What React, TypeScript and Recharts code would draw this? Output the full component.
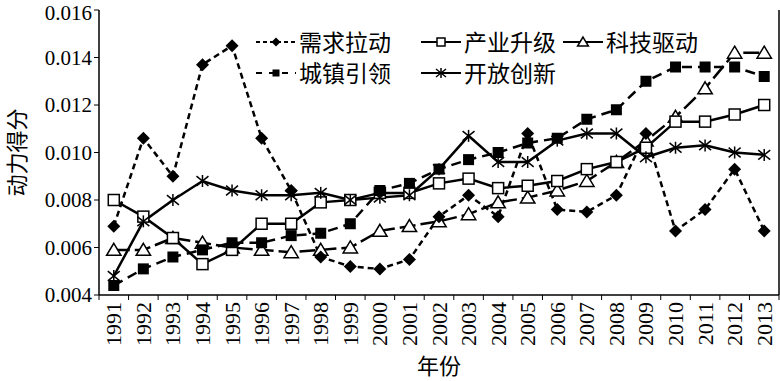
import { LineChart, Line, XAxis, YAxis, Legend } from 'recharts';

// 1991–2013
const years = [
  '1991', '1992', '1993', '1994', '1995', '1996', '1997', '1998', '1999', '2000', '2001', '2002',
  '2003', '2004', '2005', '2006', '2007', '2008', '2009', '2010', '2011', '2012', '2013',
];

const demand = [
  0.0069, 0.0106, 0.009, 0.0137, 0.0145, 0.0106, 0.0084, 0.0056, 0.0052, 0.0051, 0.0055, 0.0073,
  0.0082, 0.0073, 0.0108, 0.0076, 0.0075, 0.0082, 0.0108, 0.0067, 0.0076, 0.0093, 0.0067,
];
const industry = [
  0.008, 0.0073, 0.0064, 0.0053, 0.0059, 0.007, 0.007, 0.0079, 0.008, 0.0083, 0.0083, 0.0087,
  0.0089, 0.0085, 0.0086, 0.0088, 0.0093, 0.0096, 0.0102, 0.0113, 0.0113, 0.0116, 0.012,
];
const tech = [
  0.0059, 0.0059, 0.0064, 0.0062, 0.006, 0.0059, 0.0058, 0.0059, 0.006, 0.0067, 0.0069, 0.0071,
  0.0074, 0.0079, 0.0081, 0.0084, 0.0088, 0.0096, 0.0105, 0.0115, 0.0127, 0.0142, 0.0142,
];
const urban = [
  0.0044, 0.0051, 0.0056, 0.0059, 0.0062, 0.0062, 0.0065, 0.0066, 0.007, 0.0084, 0.0087, 0.0093,
  0.0097, 0.01, 0.0104, 0.0106, 0.0114, 0.0118, 0.013, 0.0136, 0.0136, 0.0136, 0.0132,
];
const openness = [
  0.0048, 0.0071, 0.008, 0.0088, 0.0084, 0.0082, 0.0082, 0.0083, 0.008, 0.0081, 0.0082, 0.0093,
  0.0107, 0.0096, 0.0096, 0.0105, 0.0108, 0.0108, 0.0098, 0.0102, 0.0103, 0.01, 0.0099,
];

const names = ['需求拉动', '产业升级', '科技驱动', '城镇引领', '开放创新'];
const yTicks = [0.004, 0.006, 0.008, 0.01, 0.012, 0.014, 0.016];

const data = years.map((year, i) => ({
  x: i + 1,
  year,
  demand: demand[i],
  industry: industry[i],
  tech: tech[i],
  urban: urban[i],
  openness: openness[i],
}));

// tick marks sit on the borders between years
const borderTicks = years.map((_, i) => i + 0.5).concat(years.length + 0.5);

const W = 780;
const H = 381;
const Y_AXIS_W = 99;
const halfStep = (W - Y_AXIS_W - 1) / years.length / 2;

const SERIF = 'Liberation Serif';
const CJK = 'Noto Sans CJK SC';

type P = { cx?: number; cy?: number; index?: number };

const diamond = (cx: number, cy: number, r: number, k?: string) => (
  <path key={k} d={`M${cx},${cy - r}L${cx + r},${cy}L${cx},${cy + r}L${cx - r},${cy}Z`} fill="#000" />
);
const openSquare = (cx: number, cy: number, s: number, k?: string) => (
  <rect key={k} x={cx - s / 2} y={cy - s / 2} width={s} height={s} fill="#fff" stroke="#000" strokeWidth={1.5} />
);
const triangle = (cx: number, cy: number, s: number, k?: string) => (
  <path
    key={k}
    d={`M${cx},${cy - s * 0.55}L${cx + s * 0.6},${cy + s * 0.45}L${cx - s * 0.6},${cy + s * 0.45}Z`}
    fill="#fff"
    stroke="#000"
    strokeWidth={1.5}
  />
);
const filledSquare = (cx: number, cy: number, s: number, k?: string) => (
  <rect key={k} x={cx - s / 2} y={cy - s / 2} width={s} height={s} fill="#000" />
);
const star = (cx: number, cy: number, r: number, k?: string) => (
  <g key={k} stroke="#000" strokeWidth={1.5}>
    <line x1={cx} y1={cy - r} x2={cx} y2={cy + r} />
    <line x1={cx - r} y1={cy - r * 0.8} x2={cx + r} y2={cy + r * 0.8} />
    <line x1={cx - r} y1={cy + r * 0.8} x2={cx + r} y2={cy - r * 0.8} />
  </g>
);

function YearTick(props: any) {
  const { x, y, payload } = props;
  const i = Math.round(payload.value - 0.5);
  if (i >= years.length) return <g />;
  const cx = x + halfStep;
  return (
    <text
      x={cx}
      y={y}
      transform={`rotate(-90, ${cx}, ${y})`}
      textAnchor="end"
      dominantBaseline="central"
      style={{ fontFamily: SERIF, fontSize: 22 }}
      fill="#000"
    >
      {years[i]}
    </text>
  );
}

const legendItems = [
  { name: names[0], dash: '4 3', mark: (x: number, y: number) => diamond(x, y, 4.5) },
  { name: names[1], dash: undefined, mark: (x: number, y: number) => openSquare(x, y, 8) },
  { name: names[2], dash: undefined, mark: (x: number, y: number) => triangle(x, y, 9) },
  { name: names[3], dash: '6 7', mark: (x: number, y: number) => filledSquare(x, y, 7) },
  { name: names[4], dash: undefined, mark: (x: number, y: number) => star(x, y, 5) },
];

function LegendBox() {
  return (
    <div
      style={{
        display: 'grid',
        gridTemplateColumns: '165px 142px 170px',
        gridAutoRows: '31px',
        fontFamily: CJK,
        fontSize: 23,
        color: '#000',
      }}
    >
      {legendItems.map((it) => (
        <div key={it.name} style={{ display: 'flex', alignItems: 'center', whiteSpace: 'nowrap' }}>
          <svg width={42} height={20} style={{ marginRight: 2 }}>
            <line x1={1} y1={10} x2={41} y2={10} stroke="#000" strokeWidth={2} strokeDasharray={it.dash} />
            {it.mark(21, 10)}
          </svg>
          <span style={{ lineHeight: 1 }}>{it.name}</span>
        </div>
      ))}
    </div>
  );
}

export default function App() {
  return (
    <div style={{ position: 'absolute', left: 0, top: 0, background: '#fff', fontFamily: SERIF }}>
      <LineChart width={W} height={H} data={data} margin={{ top: 10, right: 0, bottom: 0, left: 0 }}>
        <XAxis
          dataKey="x"
          type="number"
          domain={[0.5, years.length + 0.5]}
          ticks={borderTicks}
          interval={0}
          height={86}
          tickSize={5}
          tickMargin={2}
          tick={<YearTick />}
          axisLine={{ stroke: '#000', strokeWidth: 1.5 }}
          tickLine={{ stroke: '#000' }}
          label={{
            value: '年份',
            position: 'insideBottom',
            offset: 7,
            style: { fontFamily: CJK, fontSize: 22, fill: '#000' },
          }}
        />
        <XAxis
          xAxisId="top"
          orientation="top"
          type="number"
          domain={[0.5, years.length + 0.5]}
          height={0}
          tick={false}
          tickLine={false}
          axisLine={{ stroke: '#000', strokeWidth: 1.5 }}
        />
        <YAxis
          domain={[0.004, 0.016]}
          ticks={yTicks}
          width={Y_AXIS_W}
          tickSize={5}
          tickFormatter={(v: number) => v.toFixed(3)}
          tick={{ fill: '#000', fontSize: 21, style: { fontFamily: SERIF, fontSize: 21 } }}
          axisLine={{ stroke: '#000', strokeWidth: 1.5 }}
          tickLine={{ stroke: '#000' }}
          label={{
            value: '动力得分',
            angle: -90,
            position: 'insideLeft',
            offset: 17,
            style: { textAnchor: 'middle', fontFamily: CJK, fontSize: 22, fill: '#000' },
          }}
        />
        <YAxis
          yAxisId="right"
          orientation="right"
          width={1}
          domain={[0, 1]}
          tick={false}
          tickLine={false}
          axisLine={{ stroke: '#000', strokeWidth: 1.5 }}
        />
        <Legend
          layout="vertical"
          align="center"
          verticalAlign="middle"
          wrapperStyle={{ top: 26, left: 255, width: 480 }}
          content={() => <LegendBox />}
        />
        <Line
          dataKey="tech"
          name={names[2]}
          stroke="#000"
          strokeWidth={2.5}
          strokeDasharray="16 5"
          isAnimationActive={false}
          dot={(p: P) => triangle(p.cx!, p.cy!, 12, `t${p.index}`)}
        />
        <Line
          dataKey="industry"
          name={names[1]}
          stroke="#000"
          strokeWidth={2.5}
          isAnimationActive={false}
          dot={(p: P) => openSquare(p.cx!, p.cy!, 11, `s${p.index}`)}
        />
        <Line
          dataKey="openness"
          name={names[4]}
          stroke="#000"
          strokeWidth={2.5}
          isAnimationActive={false}
          dot={(p: P) => star(p.cx!, p.cy!, 6, `o${p.index}`)}
        />
        <Line
          dataKey="urban"
          name={names[3]}
          stroke="#000"
          strokeWidth={2.5}
          strokeDasharray="10 6"
          isAnimationActive={false}
          dot={(p: P) => filledSquare(p.cx!, p.cy!, 11, `u${p.index}`)}
        />
        <Line
          dataKey="demand"
          name={names[0]}
          stroke="#000"
          strokeWidth={2.5}
          strokeDasharray="6 4"
          isAnimationActive={false}
          dot={(p: P) => diamond(p.cx!, p.cy!, 6.5, `d${p.index}`)}
        />
      </LineChart>
    </div>
  );
}
